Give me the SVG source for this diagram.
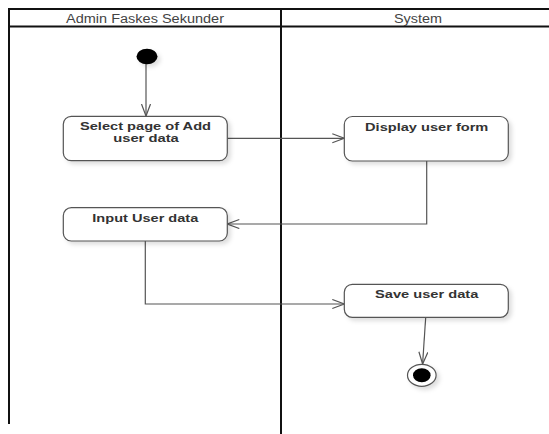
<svg xmlns="http://www.w3.org/2000/svg" width="549" height="434" viewBox="0 0 549 434">
<style>
.lane{fill:none;stroke:#111;stroke-width:2}
.hdr{font-family:"Liberation Sans",Arial,sans-serif;font-size:12px;fill:#444;text-anchor:middle}
.act{fill:#fff;stroke:#555;stroke-width:1.2}
.lbl{font-family:"Liberation Sans",Arial,sans-serif;font-size:11.5px;font-weight:bold;fill:#333;text-anchor:middle}
.lbl2{font-size:10.5px}
.con{fill:none;stroke:#555;stroke-width:1.2}
</style>
<defs>
<filter id="sh" x="-20%" y="-20%" width="150%" height="160%">
<feDropShadow dx="3" dy="3" stdDeviation="2" flood-color="#000" flood-opacity="0.13"/>
</filter>
<marker id="arr" markerUnits="userSpaceOnUse" markerWidth="14" markerHeight="11" refX="12.5" refY="5" orient="auto">
<path d="M0.5,0.5 L12.5,5 L0.5,9.5" fill="none" stroke="#555" stroke-width="1.2"/>
</marker>
</defs>
<rect width="549" height="434" fill="#fff"/>
<g id="swimlanes">
<path class="lane" d="M549,9 L9,9 L9,424"/>
<path class="lane" d="M9,26.5 L549,26.5"/>
<path class="lane" d="M281,9 L281,434"/>
<text class="hdr" x="145" y="22.5" textLength="158" lengthAdjust="spacingAndGlyphs">Admin Faskes Sekunder</text>
<text class="hdr" x="418" y="22.5" textLength="48" lengthAdjust="spacingAndGlyphs">System</text>
</g>
<g id="connectors">
<path class="con" d="M146,64 L146,116" marker-end="url(#arr)"/>
<path class="con" d="M227.3,138.3 L344.3,138.3" marker-end="url(#arr)"/>
<path class="con" d="M426.7,161 L426.7,224 L227.3,224" marker-end="url(#arr)"/>
<path class="con" d="M145.3,241 L145.3,304 L344.3,304" marker-end="url(#arr)"/>
<path class="con" d="M425.7,317.3 L422.6,364" marker-end="url(#arr)"/>
</g>
<g id="initial">
<ellipse cx="147" cy="56.5" rx="10.5" ry="7.7" fill="#000" filter="url(#sh)"/>
</g>
<g id="select-page">
<rect class="act" x="63.3" y="116.3" width="164" height="44.4" rx="8" ry="8" filter="url(#sh)"/>
<text class="lbl lbl2" x="145.5" y="130.2" textLength="131" lengthAdjust="spacingAndGlyphs">Select page of Add</text>
<text class="lbl lbl2" x="146" y="142.2" textLength="65.7" lengthAdjust="spacingAndGlyphs">user data</text>
</g>
<g id="display-form">
<rect class="act" x="344.3" y="116.5" width="164" height="44.5" rx="8" ry="8" filter="url(#sh)"/>
<text class="lbl" x="426.7" y="131" textLength="123.3" lengthAdjust="spacingAndGlyphs">Display user form</text>
</g>
<g id="input-data">
<rect class="act" x="63.3" y="207.7" width="164" height="33.3" rx="8" ry="8" filter="url(#sh)"/>
<text class="lbl" x="145.3" y="221.7" textLength="106" lengthAdjust="spacingAndGlyphs">Input User data</text>
</g>
<g id="save-data">
<rect class="act" x="344.3" y="284.3" width="164" height="33" rx="8" ry="8" filter="url(#sh)"/>
<text class="lbl" x="426.7" y="298.3" textLength="103.3" lengthAdjust="spacingAndGlyphs">Save user data</text>
</g>
<g id="final">
<ellipse cx="421.8" cy="375.3" rx="14.3" ry="11" fill="#fff" stroke="#555" stroke-width="1.2" filter="url(#sh)"/>
<ellipse cx="421.8" cy="375.3" rx="8.8" ry="7" fill="#000"/>
</g>
</svg>
